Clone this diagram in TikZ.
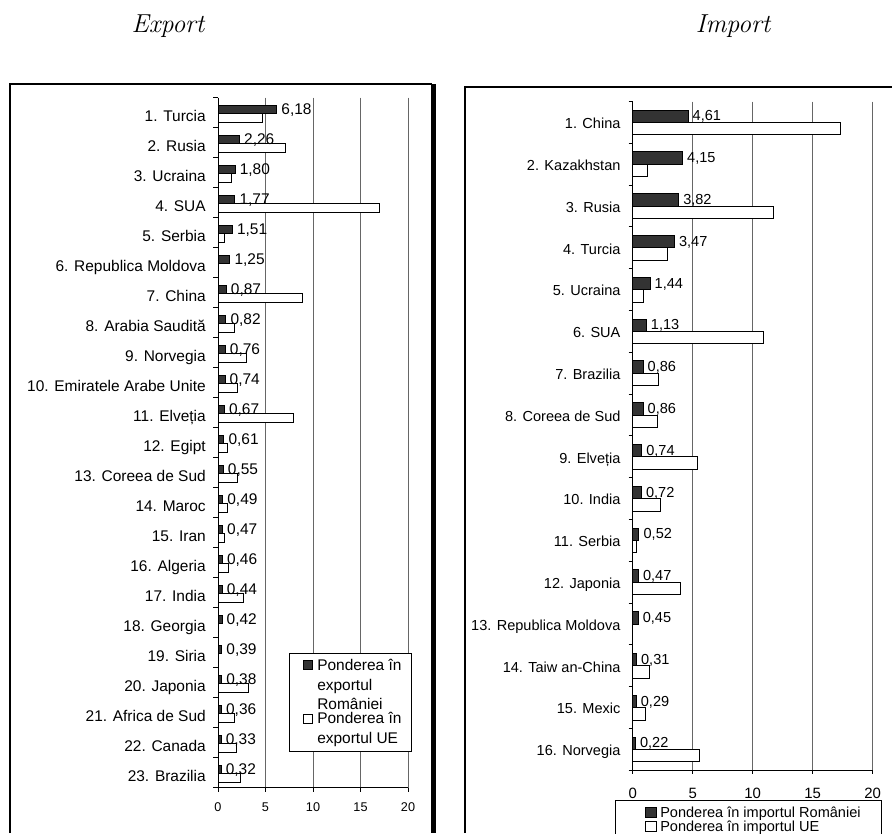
\documentclass[tikz,border=0pt]{standalone}
\usepackage{fontspec}
\newfontfamily\chartfont{Liberation Sans}
\tikzset{
  titlelabel/.style={font=\fontsize{19.5}{24}\selectfont\itshape},
  exfont/.style={font=\chartfont\fontsize{11.6}{14.6}\selectfont},
  imfont/.style={font=\chartfont\fontsize{10.9}{10.5}\selectfont},
  rombar/.style={draw=black, line width=0.7pt, fill=black!80},
  uebar/.style={draw=black, line width=0.7pt, fill=white},
  gridline/.style={draw=black!60, line width=0.75pt},
  axisline/.style={draw=black, line width=0.75pt},
  frame/.style={draw=black, line width=1.1pt},
  keybox/.style={draw=black, line width=0.75pt, fill=white},
}
\newcommand{\ponder}[1]{\pgfmathprintnumber[fixed,fixed zerofill,precision=2,use comma,assume math mode=true]{#1}}
\begin{document}
\begin{tikzpicture}[x=0.75pt, y=-0.75pt]
\useasboundingbox (0,0) rectangle (892,833);
\node[titlelabel, anchor=base] (extitle) at (168,32.7) {Export};
\node[titlelabel, anchor=base] (imtitle) at (733,32.7) {Import};
% frames
\draw[frame] (10,833) -- (10,84) -- (432,84);
\draw[line width=3.75pt] (433.5,84) -- (433.5,833);
\draw[frame] (465,833) -- (465,87) -- (892,87);

% export chart
\foreach \v in {5,10,15,20}
  \draw[gridline] ({218+9.5*\v},97.7) -- ({218+9.5*\v},787.7);
\foreach \i/\name/\r/\u in {1/Turcia/6.18/4.7, 2/Rusia/2.26/7.05, 3/Ucraina/1.80/1.4,
    4/SUA/1.77/17.0, 5/Serbia/1.51/0.67, 6/Republica Moldova/1.25/0, 7/China/0.87/8.9,
    8/Arabia Saudită/0.82/1.7, 9/Norvegia/0.76/3.0, 10/Emiratele Arabe Unite/0.74/2.07,
    11/Elveția/0.67/7.97, 12/Egipt/0.61/0.98, 13/Coreea de Sud/0.55/2.07, 14/Maroc/0.49/0.98,
    15/Iran/0.47/0.67, 16/Algeria/0.46/1.1, 17/India/0.44/2.7, 18/Georgia/0.42/0,
    19/Siria/0.39/0, 20/Japonia/0.38/3.2, 21/Africa de Sud/0.36/1.75, 22/Canada/0.33/1.93,
    23/Brazilia/0.32/2.4} {
  \pgfmathsetmacro\yc{97.7+30*(\i-0.5)+0.8}
  \node[exfont, anchor=base east, inner sep=0pt] (exname\i) at (206,\yc+7.5) {\i. \name};
  \draw[rombar] (218,\yc-8.5) rectangle ({218+9.5*\r},\yc);
  \ifdim\u pt>0pt \draw[uebar] (218,\yc) rectangle ({218+9.5*\u},\yc+8.5); \fi
  \node[exfont, anchor=base west] (exval\i) at ({218+9.5*\r},\yc+0.5) {\ponder{\r}};
}
\draw[axisline] (218,97.7) -- (218,787.7) -- (408,787.7);
\foreach \k in {0,...,23}
  \draw[axisline] (213,97.7+30*\k) -- (218,97.7+30*\k);
\foreach \v in {0,5,10,15,20} {
  \draw[axisline] ({218+9.5*\v},787.7) -- ({218+9.5*\v},791.7);
  \node[font=\chartfont\fontsize{9.5}{11}\selectfont, anchor=base] (extick\v) at ({218+9.5*\v},811.7) {\v};
}
% export legend
\draw[keybox] (289,653) rectangle (411,751);
\draw[rombar] (303,660.5) rectangle (312,669.5);
\node[exfont, anchor=west, align=left, inner sep=0pt] (exkeyro) at (317,684.5) {Ponderea în\\exportul\\României};
\draw[uebar] (303,714.5) rectangle (312,723.5);
\node[exfont, anchor=west, align=left, inner sep=0pt] (exkeyue) at (317,729.5) {Ponderea în\\exportul UE};

% import chart
\foreach \v in {5,10,15,20}
  \draw[gridline] ({632.7+12*\v},101.5) -- ({632.7+12*\v},770.3);
\foreach \i/\name/\r/\u in {1/China/4.61/17.3, 2/Kazakhstan/4.15/1.2, 3/Rusia/3.82/11.75,
    4/Turcia/3.47/2.86, 5/Ucraina/1.44/0.89, 6/SUA/1.13/10.86, 7/Brazilia/0.86/2.16,
    8/Coreea de Sud/0.86/2.05, 9/Elveția/0.74/5.36, 10/India/0.72/2.28, 11/Serbia/0.52/0.33,
    12/Japonia/0.47/4.0, 13/Republica Moldova/0.45/0, 14/Taiw an-China/0.31/1.39,
    15/Mexic/0.29/1.03, 16/Norvegia/0.22/5.6} {
  \pgfmathsetmacro\yc{101.5+41.8*(\i-0.5)}
  \node[imfont, anchor=base east, inner sep=0pt] (imname\i) at (620.7,\yc+6.3) {\i. \name};
  \draw[rombar] (632.7,\yc-12.4) rectangle ({632.7+12*\r},\yc);
  \ifdim\u pt>0pt \draw[uebar] (632.7,\yc) rectangle ({632.7+12*\u},\yc+12.4); \fi
  \node[imfont, anchor=base west] (imval\i) at ({632.7+12*\r},\yc-1.5) {\ponder{\r}};
}
\draw[axisline] (632.7,101.5) -- (632.7,770.3) -- (872.7,770.3);
\foreach \k in {0,...,16}
  \draw[axisline] (628.7,101.5+41.8*\k) -- (632.7,101.5+41.8*\k);
\foreach \v in {0,5,10,15,20} {
  \draw[axisline] ({632.7+12*\v},770.3) -- ({632.7+12*\v},774.3);
  \node[font=\chartfont\fontsize{11.2}{13}\selectfont, anchor=base] (imtick\v) at ({632.7+12*\v},798.3) {\v};
}
% import legend
\draw[keybox] (615.7,840) -- (615.7,800.7) -- (881,800.7) -- (881,840);
\draw[rombar] (645.5,807) rectangle (656,817);
\node[imfont, anchor=base west, inner sep=0pt] (imkeyro) at (660,817.5) {Ponderea în importul României};
\draw[uebar] (645.5,821) rectangle (656,831);
\node[imfont, anchor=base west, inner sep=0pt] (imkeyue) at (660,831.5) {Ponderea în importul UE};
\end{tikzpicture}
\end{document}
